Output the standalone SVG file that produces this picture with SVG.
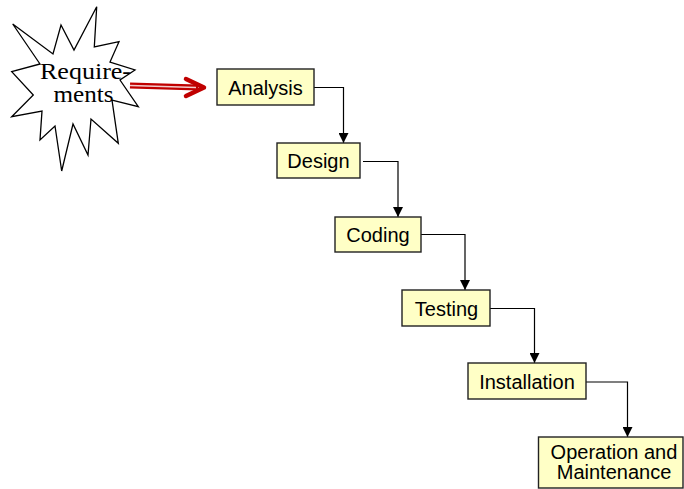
<svg xmlns="http://www.w3.org/2000/svg" width="684" height="489" viewBox="0 0 684 489">
<style>
.box{fill:#ffffc6;stroke:#222;stroke-width:1.4}
.lbl{font-family:"Liberation Sans",Arial,sans-serif;font-size:20px;fill:#000;text-anchor:middle}
.conn{fill:none;stroke:#000;stroke-width:1.2}
.star{fill:#fff;stroke:#000;stroke-width:1.3;stroke-linejoin:miter}
.req{font-family:"Liberation Serif","Times New Roman",serif;font-size:24px;fill:#000;text-anchor:middle}
</style>
<defs>
<marker id="ah" markerUnits="userSpaceOnUse" markerWidth="10" markerHeight="10" refX="10" refY="5" orient="auto" viewBox="0 0 10 10">
<path d="M0,0 L10,5 L0,10 z" fill="#000"/>
</marker>
</defs>
<rect width="684" height="489" fill="#fff"/>
<g id="requirements">
<polygon class="star" points="12.7,24 53,54 61,25 74,50 96.7,6.7 94.3,47 119,41.7 110,62 135,70 120,80 138.3,106.7 112,100 118.3,143.3 91,119 88,155 73,124 61.7,171 55,126 40,140 42,111 11.7,116.7 33.3,95 11.7,71.7 40,64"/>
<text class="req" x="85.5" y="79" textLength="91" lengthAdjust="spacingAndGlyphs">Require-</text>
<text class="req" x="83.5" y="101.5" textLength="60" lengthAdjust="spacingAndGlyphs">ments</text>
</g>
<g id="connectors">
<g id="req-arrow">
<path d="M130,85.5 L198,87.5" stroke="#c00000" stroke-width="6" fill="none"/>
<path d="M130,85.5 L196,87.5" stroke="#fff" stroke-width="1.3" fill="none" opacity="0.8"/>
<polyline points="186,79 204,87.5 186,96" fill="none" stroke="#c00000" stroke-width="4.5" stroke-linejoin="round" stroke-linecap="round"/>
</g>
<path class="conn" d="M314,87.5 H343.5 V143" marker-end="url(#ah)"/>
<path class="conn" d="M363,161.5 H398 V217" marker-end="url(#ah)"/>
<path class="conn" d="M421,234.5 H465 V290" marker-end="url(#ah)"/>
<path class="conn" d="M490,308.5 H534.5 V363" marker-end="url(#ah)"/>
<path class="conn" d="M586,382 H627.5 V437" marker-end="url(#ah)"/>
</g>
<g id="analysis">
<rect class="box" x="217" y="69" width="97" height="36"/>
<text class="lbl" x="265.5" y="94.5">Analysis</text>
</g>
<g id="design">
<rect class="box" x="277" y="143" width="83" height="35"/>
<text class="lbl" x="318.5" y="168">Design</text>
</g>
<g id="coding">
<rect class="box" x="335" y="217" width="86" height="35"/>
<text class="lbl" x="378" y="241.5">Coding</text>
</g>
<g id="testing">
<rect class="box" x="402" y="290" width="88" height="36"/>
<text class="lbl" x="446.5" y="315.5">Testing</text>
</g>
<g id="installation">
<rect class="box" x="468" y="363" width="118" height="36"/>
<text class="lbl" x="527" y="388.5">Installation</text>
</g>
<g id="operation">
<rect class="box" x="538.5" y="437" width="144.5" height="51"/>
<text class="lbl" x="614" y="458.5">Operation and</text>
<text class="lbl" x="614" y="478.5">Maintenance</text>
</g>
</svg>
